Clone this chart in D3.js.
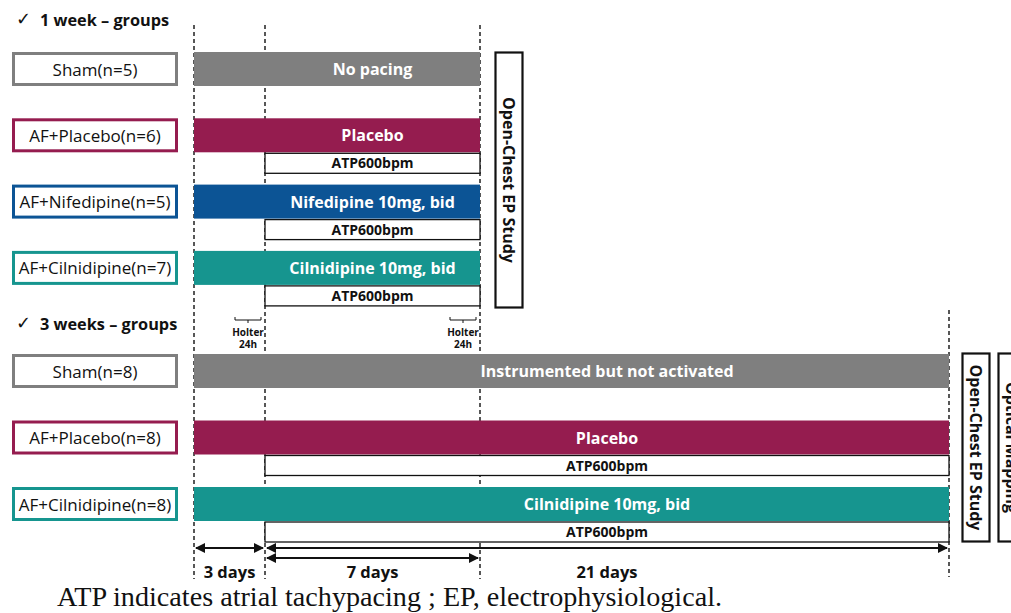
<!DOCTYPE html>
<html><head><meta charset="utf-8">
<script src="https://cdn.jsdelivr.net/npm/d3@7"></script>
<style>body{margin:0;background:#fff}svg{display:block}</style>
</head><body>
<svg id="c" width="1011" height="613"></svg>
<script>
// ---- data ----
const phaseDays = [0, 3, 10, 31];            // cumulative day boundaries
const phaseLabels = ["3 days", "7 days", "21 days"];
const week1Groups = ["Sham(n=5)", "AF+Placebo(n=6)", "AF+Nifedipine(n=5)", "AF+Cilnidipine(n=7)"];
const week1Bars = ["No pacing", "Placebo", "Nifedipine 10mg, bid", "Cilnidipine 10mg, bid"];
const week1Colors = ["#7f7f7f", "#951c4f", "#0c5495", "#16958f"];
const week1Pacing = [false, true, true, true];
const week3Groups = ["Sham(n=8)", "AF+Placebo(n=8)", "AF+Cilnidipine(n=8)"];
const week3Bars = ["Instrumented but not activated", "Placebo", "Cilnidipine 10mg, bid"];
const week3Colors = ["#7f7f7f", "#951c4f", "#16958f"];
const week3Pacing = [false, true, true];
const pacingLabel = "ATP600bpm";
const headers = ["1 week \u2013 groups", "3 weeks \u2013 groups"];
const endStudies = ["Open-Chest EP Study", "Optical Mapping"];
const caption = "ATP indicates atrial tachypacing ; EP, electrophysiological.";

const svg = d3.select("#c");
const x = d3.scaleLinear().domain(phaseDays).range([194, 265, 480, 949]);
const row1 = d3.scaleLinear().domain([0, 1]).range([52, 118.3]);
const row3 = d3.scaleLinear().domain([0, 1]).range([354, 420.5]);
const barH = 34, atpH = 20;
const sans = "'Open Sans', Lato, sans-serif";

// dashed guide lines
[0, 3, 10].forEach(d => {
  svg.append("line").attr("x1", x(d)).attr("x2", x(d)).attr("y1", 25).attr("y2", 579)
    .attr("stroke", "#111").attr("stroke-width", 1.4).attr("stroke-dasharray", "4,3");
});
svg.append("line").attr("x1", x(31)).attr("x2", x(31)).attr("y1", 310).attr("y2", 577)
  .attr("stroke", "#111").attr("stroke-width", 1.4).attr("stroke-dasharray", "4,3");

// headers
[[headers[0], 20], [headers[1], 324]].forEach(([t, y]) => {
  svg.append("text").attr("x", 16).attr("y", y + 5).attr("font-family", "'DejaVu Sans'")
    .attr("font-size", 18).attr("fill", "#111").text("\u2713");
  svg.append("text").attr("x", 40).attr("y", y + 6).attr("font-family", sans)
    .attr("font-size", 16.3).attr("font-weight", 700).attr("fill", "#111").text(t);
});

function drawGroup(groups, bars, colors, pacing, rowScale, endDay) {
  groups.forEach((g, i) => {
    const y = rowScale(i);
    // label box
    svg.append("rect").attr("x", 13.5).attr("y", y + 1.5).attr("width", 163).attr("height", barH - 3)
      .attr("fill", "#fff").attr("stroke", colors[i]).attr("stroke-width", 3);
    svg.append("text").attr("x", 95).attr("y", y + barH / 2 + 6.5).attr("text-anchor", "middle")
      .attr("font-family", sans).attr("font-size", 17).attr("fill", "#111").text(g);
    // treatment bar
    svg.append("rect").attr("x", x(0)).attr("y", y).attr("width", x(endDay) - x(0)).attr("height", barH)
      .attr("fill", colors[i]);
    const cx = (x(3) + x(endDay)) / 2;
    svg.append("text").attr("x", cx).attr("y", y + barH / 2 + 6).attr("text-anchor", "middle")
      .attr("font-family", sans).attr("font-size", 16).attr("font-weight", 700).attr("fill", "#fff").text(bars[i]);
    if (pacing[i]) {
      svg.append("rect").attr("x", x(3)).attr("y", y + barH + 1).attr("width", x(endDay) - x(3)).attr("height", atpH)
        .attr("fill", "#fff").attr("stroke", "#111").attr("stroke-width", 1.3);
      svg.append("text").attr("x", (x(3) + x(endDay)) / 2).attr("y", y + barH + 1 + atpH / 2 + 5)
        .attr("text-anchor", "middle").attr("font-family", sans).attr("font-size", 14)
        .attr("font-weight", 700).attr("fill", "#111").text(pacingLabel);
    }
  });
}
drawGroup(week1Groups, week1Bars, week1Colors, week1Pacing, row1, 10);
drawGroup(week3Groups, week3Bars, week3Colors, week3Pacing, row3, 31);

// vertical end-study boxes
function vbox(x0, y0, w, h, label) {
  const g = svg.append("g");
  g.append("rect").attr("x", x0).attr("y", y0).attr("width", w).attr("height", h)
    .attr("fill", "#fff").attr("stroke", "#111").attr("stroke-width", 2.2);
  g.append("text").attr("transform", `translate(${x0 + w / 2 - 6},${y0 + h / 2}) rotate(90)`)
    .attr("text-anchor", "middle").attr("font-family", sans).attr("font-size", 16)
    .attr("font-weight", 700).attr("fill", "#111").text(label);
}
vbox(495.5, 52.5, 27, 255, endStudies[0]);
vbox(962.5, 353.5, 27, 188, endStudies[0]);
vbox(998.5, 353.5, 27, 188, endStudies[1]);

// Holter markers
[x(3), x(10)].forEach(xe => {
  const x1 = xe - 30, x2 = xe - 4, xm = (x1 + x2) / 2;
  svg.append("path").attr("d", `M${x1},317 V320 H${x2} V317 M${xm},320 V323`)
    .attr("fill", "none").attr("stroke", "#111").attr("stroke-width", 1);
  svg.append("text").attr("x", xm).attr("y", 336).attr("text-anchor", "middle").attr("font-family", sans)
    .attr("font-size", 10).attr("font-weight", 700).attr("fill", "#111").text("Holter");
  svg.append("text").attr("x", xm).attr("y", 348).attr("text-anchor", "middle").attr("font-family", sans)
    .attr("font-size", 10).attr("font-weight", 700).attr("fill", "#111").text("24h");
});

// arrows
const defs = svg.append("defs");
defs.append("marker").attr("id", "ah").attr("viewBox", "0 0 10 10").attr("refX", 9).attr("refY", 5)
  .attr("markerWidth", 5).attr("markerHeight", 5).attr("orient", "auto-start-reverse")
  .append("path").attr("d", "M0,0 L10,5 L0,10 Z").attr("fill", "#111");
function arrow(a, b, y) {
  svg.append("line").attr("x1", x(a) + 2).attr("x2", x(b) - 2).attr("y1", y).attr("y2", y)
    .attr("stroke", "#111").attr("stroke-width", 2)
    .attr("marker-start", "url(#ah)").attr("marker-end", "url(#ah)");
}
arrow(0, 3, 548);
arrow(3, 31, 548);
arrow(3, 10, 558);
// label centres: first two phases centred on their span, the last on the whole pacing span
const labelSpans = [[0, 3], [3, 10], [3, 31]];
phaseLabels.forEach((t, i) => {
  const [a, b] = labelSpans[i];
  svg.append("text").attr("x", (x(a) + x(b)) / 2).attr("y", 578)
    .attr("text-anchor", "middle").attr("font-family", sans).attr("font-size", 16.5)
    .attr("font-weight", 700).attr("fill", "#111").text(t);
});

// caption
svg.append("text").attr("x", 57).attr("y", 606).attr("font-family", "'Liberation Serif', serif")
  .attr("font-size", 27).attr("textLength", 665).attr("lengthAdjust", "spacingAndGlyphs")
  .attr("fill", "#111").text(caption);
</script>
</body></html>
